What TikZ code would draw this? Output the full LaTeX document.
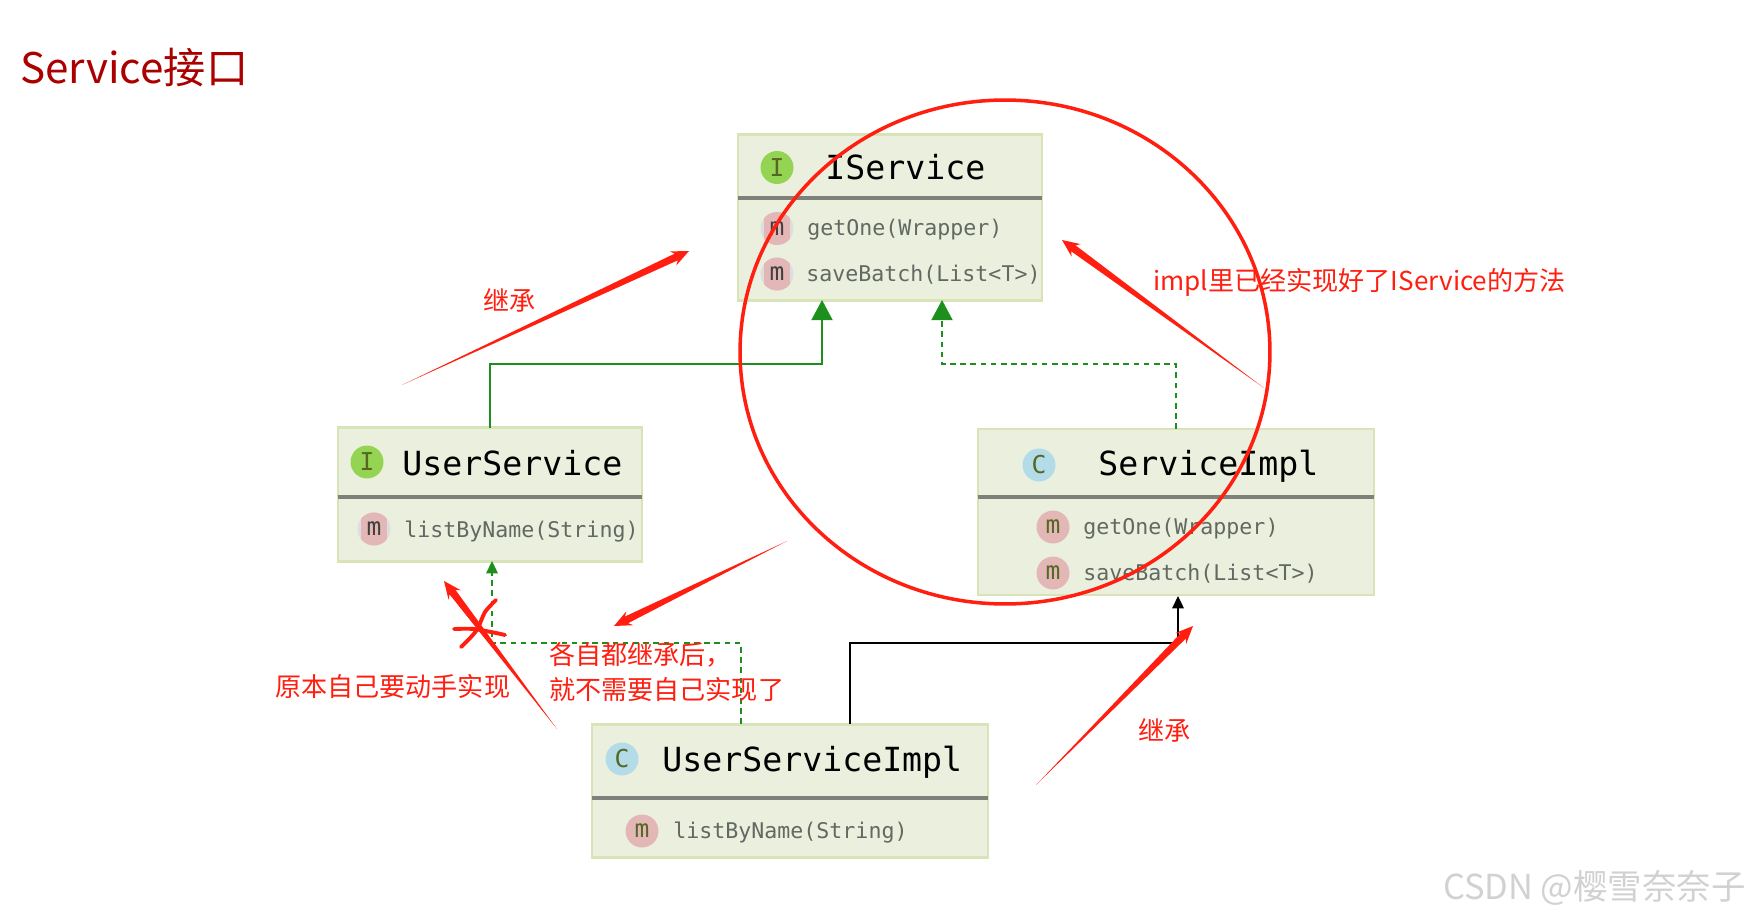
\documentclass[tikz,border=0pt]{standalone}
\usepackage{xcolor}
\usepackage{fontspec}
\setmainfont{Noto Sans CJK SC}
\setmonofont{DejaVu Sans Mono}
\usetikzlibrary{arrows.meta,calc,shapes.geometric}

\definecolor{boxfill}{RGB}{235,240,222}
\definecolor{boxline}{RGB}{216,228,184}
\definecolor{rulegray}{RGB}{128,128,122}
\definecolor{memberink}{RGB}{98,104,98}
\definecolor{umlgreen}{RGB}{28,143,28}
\definecolor{markred}{RGB}{255,30,15}
\definecolor{titlered}{RGB}{170,0,0}
\definecolor{iconI}{RGB}{148,212,82}
\definecolor{iconC}{RGB}{180,220,232}
\definecolor{iconM}{RGB}{228,183,183}
\definecolor{iconEdge}{RGB}{222,222,222}
\definecolor{iconInk}{RGB}{84,104,36}

\newcommand{\taperarrow}[2]{
    \coordinate (barb) at ($(#2)!10pt!(#1)$);
    \coordinate (neck) at ($(#2)!8pt!(#1)$);
    \fill[markred] (#1) -- ($(neck)!2.1pt!90:(#2)$) -- ($(barb)!4.4pt!90:(#2)$) -- (#2)
        -- ($(barb)!4.4pt!-90:(#2)$) -- ($(neck)!2.1pt!-90:(#2)$) -- cycle;
}

\begin{document}
\begin{tikzpicture}[
    x=0.02cm, y=-0.02cm,
    umlbox/.style={rectangle, draw=boxline, fill=boxfill, line width=1.4pt, outer sep=0pt, inner sep=0pt},
    divider/.style={draw=rulegray, line width=2pt},
    classname/.style={anchor=base west, inner sep=0pt, text=black, font=\ttfamily\fontsize{18.9}{20}\selectfont},
    member/.style={anchor=base west, inner sep=0pt, text=memberink, font=\ttfamily\fontsize{12.3}{14}\selectfont},
    icon/.style={circle, minimum size=0.66cm, inner sep=0pt, text=iconInk, font=\ttfamily\fontsize{14}{14}\selectfont},
    iconi/.style={icon, fill=iconI},
    iconc/.style={icon, fill=iconC},
    iconm/.style={icon, fill=iconM},
    iconmedge/.style={icon, text=black!75, fill=iconEdge, path picture={
        \fill[iconM] ($(path picture bounding box.center)+(-13,-20)$) rectangle ($(path picture bounding box.center)+(13,20)$);}},
    inherit/.style={umlgreen, line width=1.1pt, -{Triangle[length=11.5pt,width=12pt]}},
    realize/.style={umlgreen, line width=1.1pt, dash pattern=on 3.2pt off 2.6pt, -{Triangle[length=11.5pt,width=12pt]}},
    note/.style={inner sep=0pt, text=markred, font=\fontsize{14.85}{19.4}\selectfont}
]
\useasboundingbox (0,0) rectangle (1750,916);

% Class boxes
\node[umlbox, minimum width=6.08cm, minimum height=3.32cm] (iservice) at (890,217.5) {};
\node[umlbox, minimum width=6.08cm, minimum height=2.68cm] (userservice) at (490,494.5) {};
\node[umlbox, minimum width=7.92cm, minimum height=3.32cm] (serviceimpl) at (1176,512) {};
\node[umlbox, minimum width=7.92cm, minimum height=2.66cm] (userserviceimpl) at (790,791) {};

\draw[divider] (iservice.west |- 0,198) -- (iservice.east |- 0,198);
\draw[divider] (userservice.west |- 0,497) -- (userservice.east |- 0,497);
\draw[divider] (serviceimpl.west |- 0,497) -- (serviceimpl.east |- 0,497);
\draw[divider] (userserviceimpl.west |- 0,798) -- (userserviceimpl.east |- 0,798);

% IService
\node[iconi] (iserviceicon) at (777,167.5) {I};
\node[classname] (iservicename) at (825,179) {IService};
\node[iconmedge] (getoneicon) at (777,228.5) {m};
\node[member] (getone) at (807,235) {getOne(Wrapper)};
\node[iconmedge] (savebatchicon) at (777,274) {m};
\node[member] (savebatch) at (806,281) {saveBatch(List<T>)};

% UserService
\node[iconi] (userserviceicon) at (367,462) {I};
\node[classname] (userservicename) at (402,475) {UserService};
\node[iconmedge] (listbynameicon) at (374,529) {m};
\node[member] (listbyname) at (404,537) {listByName(String)};

% ServiceImpl
\node[iconc] (serviceimplicon) at (1039,465) {C};
\node[classname] (serviceimplname) at (1098,475) {ServiceImpl};
\node[iconm] (implgetoneicon) at (1053,527) {m};
\node[member] (implgetone) at (1083,534) {getOne(Wrapper)};
\node[iconm] (implsavebatchicon) at (1053,573) {m};
\node[member] (implsavebatch) at (1083,580) {saveBatch(List<T>)};

% UserServiceImpl
\node[iconc] (userserviceimplicon) at (622,759) {C};
\node[classname] (userserviceimplname) at (662,771) {UserServiceImpl};
\node[iconm] (impllistbynameicon) at (642,831) {m};
\node[member] (impllistbyname) at (673,838) {listByName(String)};

% Arrows
\coordinate (iserviceleft) at (822,300);
\coordinate (iserviceright) at (942,300);
\coordinate (usertop) at (492,561);
\coordinate (userimpldash) at (741,724);
\coordinate (userimplsolid) at (850,724);
\coordinate (implbottom) at (1178,596);

\draw[inherit] (userservice.north) |- (822,364) -- (iserviceleft);
\draw[realize] (serviceimpl.north) |- (942,364) -- (iserviceright);
\draw[umlgreen, line width=1.1pt, dash pattern=on 3.2pt off 2.6pt, -{Triangle[length=7pt,width=6.5pt]}]
    (userimpldash) |- (492,643) -- (usertop);
\draw[black, line width=1.1pt, -{Triangle[length=7pt,width=6.5pt]}]
    (userimplsolid) |- (1178,643) -- (implbottom);

% Red remarks
\node[draw=markred, line width=2pt, ellipse, minimum width=10.6cm, minimum height=10.08cm, inner sep=0pt] (ring) at (1005,352) {};

\coordinate (inheritleftend) at (402,385);
\coordinate (inheritlefttip) at (689,251);
\coordinate (ringend) at (1264,388);
\coordinate (ringtip) at (1062,240);
\coordinate (eachend) at (787,541);
\coordinate (eachtip) at (614,626);
\coordinate (selfend) at (557,729);
\coordinate (selftip) at (444,581);
\coordinate (inheritrightend) at (1036,785);
\coordinate (inheritrighttip) at (1193,626);

\taperarrow{inheritleftend}{inheritlefttip}
\taperarrow{ringend}{ringtip}
\taperarrow{eachend}{eachtip}
\taperarrow{selfend}{selftip}
\taperarrow{inheritrightend}{inheritrighttip}

% Cross
\draw[markred, line width=2.2pt, line cap=round] plot[smooth] coordinates {(496,600) (485,612) (478,628) (471,637) (461,647)};
\draw[markred, line width=2.2pt, line cap=round] plot[smooth] coordinates {(454,629) (474,629) (496,633) (505,635)};

% Texts
\node[anchor=base west, inner sep=0pt, text=titlered, font=\fontsize{24}{26}\selectfont] (title) at (20,83) {Service接口};
\node[note, anchor=west] (inheritleft) at (483,300) {继承};
\node[note, anchor=west] (inheritright) at (1138,730) {继承};
\node[note, anchor=west] (ringnote) at (1153,282) {impl里已经实现好了IService的方法};
\node[note, anchor=west, align=left] (eachnote) at (549,672) {各自都继承后，\\就不需要自己实现了};
\node[note, anchor=west] (selfnote) at (275,687) {原本自己要动手实现};
\node[anchor=east, inner sep=0pt, text=black!18, font=\fontsize{19.6}{22}\selectfont] (watermark) at (1746,888) {CSDN @樱雪奈奈子};

\end{tikzpicture}
\end{document}
